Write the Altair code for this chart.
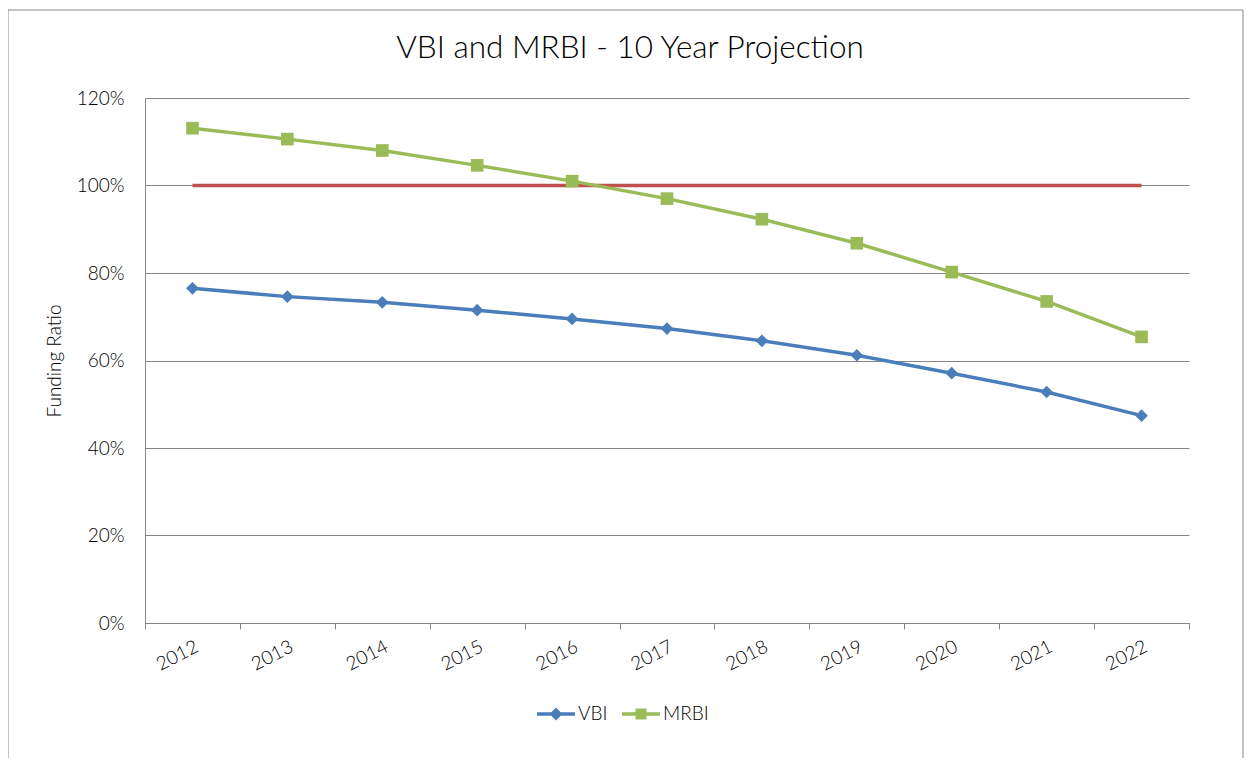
import altair as alt
import pandas as pd

YEARS = ["2012", "2013", "2014", "2015", "2016", "2017", "2018", "2019", "2020", "2021", "2022"]
SERIES = ["VBI", "MRBI"]
VBI = [0.765, 0.746, 0.733, 0.715, 0.695, 0.673, 0.645, 0.612, 0.571, 0.528, 0.474]
MRBI = [1.131, 1.106, 1.080, 1.046, 1.010, 0.970, 0.923, 0.868, 0.802, 0.735, 0.654]
TARGET = [1.00, 1.00, 1.00, 1.00, 1.00, 1.00, 1.00, 1.00, 1.00, 1.00, 1.00]
COLORS = ["#4A7EBB", "#9BBB59"]
RED = "#C0504D"
GRAY = "#868686"
FONT = "Lato"
LW = 300

# legend glyphs: line stub with a marker on it (custom symbol paths)
PATH_VBI = "M-1,-0.09 L1,-0.09 L1,0.09 L-1,0.09 Z M0,-0.34 L0.34,0 L0,0.34 L-0.34,0 Z"
PATH_MRBI = "M-1,-0.09 L1,-0.09 L1,0.09 L-1,0.09 Z M-0.29,-0.29 L0.29,-0.29 L0.29,0.29 L-0.29,0.29 Z"

rows = []
for i, y in enumerate(YEARS):
    rows.append({"year": y, "series": "VBI", "value": VBI[i]})
for i, y in enumerate(YEARS):
    rows.append({"year": y, "series": "MRBI", "value": MRBI[i]})
df = pd.DataFrame(rows)
df_t = pd.DataFrame({"year": YEARS, "value": TARGET})

x_enc = alt.X(
    "year:N", sort=YEARS,
    scale=alt.Scale(paddingInner=0, paddingOuter=0),
    axis=alt.Axis(
        title=None, labelAngle=333, labelAlign="right", labelBaseline="top",
        labelPadding=8, tickBand="extent", tickSize=6, tickColor=GRAY,
        domainColor=GRAY, labelFontSize=19, labelColor="#000000",
        labelFont=FONT, labelFontWeight=LW, grid=False,
    ),
)
y_enc = alt.Y(
    "value:Q",
    scale=alt.Scale(domain=[0, 1.2]),
    axis=alt.Axis(
        title="Funding Ratio", format=".0%", values=[0, 0.2, 0.4, 0.6, 0.8, 1.0, 1.2],
        ticks=False, labelPadding=21, labelFontSize=19, labelColor="#000000",
        labelFont=FONT, labelFontWeight=LW, domainColor=GRAY, gridColor=GRAY, gridWidth=1,
        titleFont=FONT, titleFontSize=19, titleFontWeight=LW,
        titleColor="#000000", titlePadding=12,
    ),
)

border = alt.Chart(pd.DataFrame({"k": [0]})).mark_rect(
    fillOpacity=0, stroke=GRAY, strokeWidth=1
).encode(
    x=alt.value(-137), x2=alt.value(1098), y=alt.value(-88), y2=alt.value(700)
)

target = alt.Chart(df_t).mark_line(color=RED, strokeWidth=3.5).encode(x=x_enc, y=y_enc)

lines = alt.Chart(df).mark_line(strokeWidth=3.5).encode(
    x=x_enc, y=y_enc,
    color=alt.Color("series:N", scale=alt.Scale(domain=SERIES, range=COLORS), legend=None),
    detail="series:N",
)

points = alt.Chart(df).mark_point(filled=True, opacity=1, size=160).encode(
    x=x_enc, y=y_enc,
    color=alt.Color("series:N", scale=alt.Scale(domain=SERIES, range=COLORS), legend=None),
    shape=alt.Shape("series:N", scale=alt.Scale(domain=SERIES, range=["diamond", "square"]), legend=None),
)

leg = alt.Legend(
    orient="none", direction="horizontal", legendX=392, legendY=597,
    title=None, labelFont=FONT, labelFontSize=19, labelFontWeight=LW, labelColor="#000000",
    symbolSize=1444, symbolOpacity=1, symbolStrokeWidth=0, labelOffset=3,
    columnPadding=14, padding=0,
)
legend_layer = alt.Chart(df).mark_point(filled=True, opacity=0).encode(
    x=x_enc, y=y_enc,
    color=alt.Color("series:N", scale=alt.Scale(domain=SERIES, range=COLORS), legend=leg, title=None),
    shape=alt.Shape("series:N", scale=alt.Scale(domain=SERIES, range=[PATH_VBI, PATH_MRBI]), legend=leg, title=None),
)

chart = alt.layer(border, target, lines, points, legend_layer).resolve_scale(
    color="independent", shape="independent"
).properties(
    width=1044, height=525,
    autosize=alt.AutoSizeParams(type="none"),
    padding={"left": 137, "top": 90, "right": 55, "bottom": 135},
    title=alt.TitleParams(
        text="VBI and MRBI - 10 Year Projection", font=FONT, fontSize=31.5,
        fontWeight=LW, color="#000000", anchor="middle", dx=-37,
        baseline="alphabetic", offset=-80,
    ),
).configure_view(stroke="transparent")

chart.save("out.html", embed_options={"renderer": "svg", "actions": False})
